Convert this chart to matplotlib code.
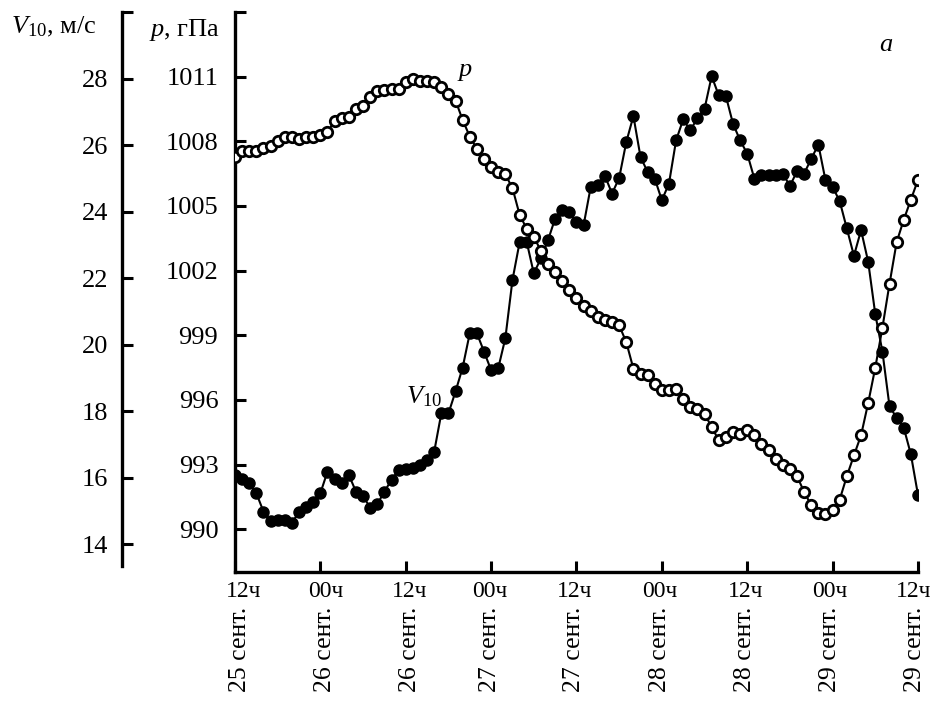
import matplotlib
matplotlib.use('Agg')
import matplotlib.pyplot as plt
import matplotlib.transforms as mtransforms
import numpy as np

plt.rcParams['font.family'] = 'Liberation Serif'
plt.rcParams['mathtext.fontset'] = 'custom'
plt.rcParams['mathtext.rm'] = 'Liberation Serif'
plt.rcParams['mathtext.it'] = 'Liberation Serif:italic'

# hourly series, 12h 25 Sep .. 12h 29 Sep
hours = np.arange(97)

pressure = [1007.26, 1007.54, 1007.57, 1007.57, 1007.68, 1007.80, 1008.03, 1008.19, 1008.19, 1008.11,
            1008.19, 1008.22, 1008.31, 1008.42, 1008.96, 1009.09, 1009.15, 1009.50, 1009.66, 1010.04,
            1010.32, 1010.39, 1010.43, 1010.43, 1010.74, 1010.89, 1010.82, 1010.78, 1010.74, 1010.54,
            1010.20, 1009.89, 1008.99, 1008.22, 1007.65, 1007.19, 1006.80, 1006.56, 1006.46, 1005.83,
            1004.60, 1003.94, 1003.55, 1002.93, 1002.29, 1001.93, 1001.54, 1001.11, 1000.74, 1000.38,
            1000.12, 999.87, 999.69, 999.61, 999.46, 998.68, 997.45, 997.22, 997.14, 996.75,
            996.44, 996.44, 996.52, 996.06, 995.67, 995.60, 995.36, 994.74, 994.13, 994.28,
            994.51, 994.44, 994.59, 994.36, 993.97, 993.66, 993.28, 992.97, 992.81, 992.46,
            991.73, 991.11, 990.76, 990.70, 990.88, 991.38, 992.46, 993.43, 994.36, 995.86,
            997.50, 999.35, 1001.39, 1003.32, 1004.36, 1005.29, 1006.21]

wind = [16.08, 15.96, 15.83, 15.53, 14.98, 14.68, 14.73, 14.73, 14.63, 14.98,
        15.13, 15.28, 15.53, 16.18, 15.96, 15.83, 16.08, 15.58, 15.44, 15.10,
        15.20, 15.58, 15.93, 16.23, 16.26, 16.30, 16.38, 16.53, 16.78, 17.93,
        17.93, 18.59, 19.31, 20.34, 20.34, 19.79, 19.23, 19.29, 20.19, 21.94,
        23.07, 23.09, 22.14, 22.59, 23.14, 23.79, 24.04, 23.99, 23.69, 23.59,
        24.74, 24.81, 25.07, 24.54, 25.01, 26.09, 26.87, 25.64, 25.19, 24.99,
        24.34, 24.84, 26.14, 26.77, 26.44, 26.81, 27.09, 28.07, 27.49, 27.47,
        26.64, 26.14, 25.74, 24.99, 25.09, 25.09, 25.09, 25.14, 24.77, 25.21,
        25.14, 25.59, 26.01, 24.94, 24.74, 24.31, 23.49, 22.67, 23.44, 22.49,
        20.91, 19.79, 18.14, 17.80, 17.50, 16.70, 15.48]

tick_hours = [0, 12, 24, 36, 48, 60, 72, 84, 96]
tick_labels = ['12ч', '00ч', '12ч', '00ч', '12ч', '00ч', '12ч', '00ч', '12ч']
date_labels = ['25 сент.', '26 сент.', '26 сент.', '27 сент.', '27 сент.',
               '28 сент.', '28 сент.', '29 сент.', '29 сент.']

p_ticks = [990, 993, 996, 999, 1002, 1005, 1008, 1011, 1014]
v_ticks = [14, 16, 18, 20, 22, 24, 26, 28, 30]

# small horizontal nudges of the bottom labels (pixels)
label_shift = [9, 5, 4, -1, -2, -2, -2, -3, -4]
date_shift = [5, 5, 4, -1, -2, -2, -2, -3, -3]

fig = plt.figure(figsize=(9.37, 7.01), dpi=100)
ax = fig.add_axes([0.2508, 0.1835, 0.7289, 0.7994])
ax2 = ax.twinx()

# wind speed (filled markers)
ax2.plot(hours, wind, color='black', lw=1.5, marker='o', ms=8, mfc='black', mec='black', zorder=3)
# pressure (open markers)
ax.plot(hours, pressure, color='black', lw=1.5, marker='o', ms=7.5, mfc='white', mec='black', mew=2, zorder=3)
ax.set_zorder(ax2.get_zorder() + 1)
ax.patch.set_visible(False)

ax.set_xlim(0, 96)
ax.set_ylim(988, 1014)
ax2.set_ylim(13.15, 30)

for s in ['top', 'right']:
    ax.spines[s].set_visible(False)
for s in ['top', 'right', 'bottom']:
    ax2.spines[s].set_visible(False)
ax.spines['left'].set_linewidth(2.4)
ax.spines['bottom'].set_linewidth(2.4)

ax.set_yticks(p_ticks)
ax.set_yticklabels([str(v) for v in p_ticks[:-1]] + [''])
ax.tick_params(axis='y', direction='in', length=8, width=2.2, labelsize=19, pad=12)
ax.set_xticks(tick_hours)
ax.set_xticklabels(tick_labels)
ax.tick_params(axis='x', direction='in', length=8, width=2.2, labelsize=17, pad=6)
for lab, dx in zip(ax.get_xticklabels(), label_shift):
    lab.set_transform(lab.get_transform() + mtransforms.ScaledTranslation(dx / 100, 0, fig.dpi_scale_trans))

ax2.spines['left'].set_visible(True)
ax2.spines['left'].set_position(('axes', -0.1654))
ax2.spines['left'].set_linewidth(2.4)
ax2.spines['left'].set_bounds(13.33, 30)
ax2.yaxis.set_ticks_position('left')
ax2.yaxis.set_label_position('left')
ax2.set_yticks(v_ticks)
ax2.set_yticklabels([str(v) for v in v_ticks[:-1]] + [''])
ax2.tick_params(axis='y', direction='in', length=8, width=2.2, labelsize=19, pad=10)

blend = mtransforms.blended_transform_factory(ax.transData, ax.transAxes)
for h, d, dx in zip(tick_hours, date_labels, date_shift):
    tr = blend + mtransforms.ScaledTranslation(dx / 100, 0, fig.dpi_scale_trans)
    ax.text(h, -0.061, d, rotation=90, ha='center', va='top', fontsize=18.5, transform=tr)

fig.text(11 / 937, 1 - 33 / 701, r'$\mathit{V}_{\mathrm{10}}$, м/с', fontsize=19, ha='left', va='baseline')
fig.text(220 / 937, 1 - 36 / 701, r'$\mathit{p}$, гПа', fontsize=19, ha='right', va='baseline')

ax.text(0.3367, 0.8966, 'p', style='italic', fontsize=19, ha='center', va='center', transform=ax.transAxes)
ax.text(0.2767, 0.313, r'$\mathit{V}_{\mathit{10}}$', fontsize=19, ha='center', va='center', transform=ax.transAxes)
ax.text(0.953, 0.9411, 'a', style='italic', fontsize=19, ha='center', va='center', transform=ax.transAxes)

fig.savefig('out.png', dpi=100)
